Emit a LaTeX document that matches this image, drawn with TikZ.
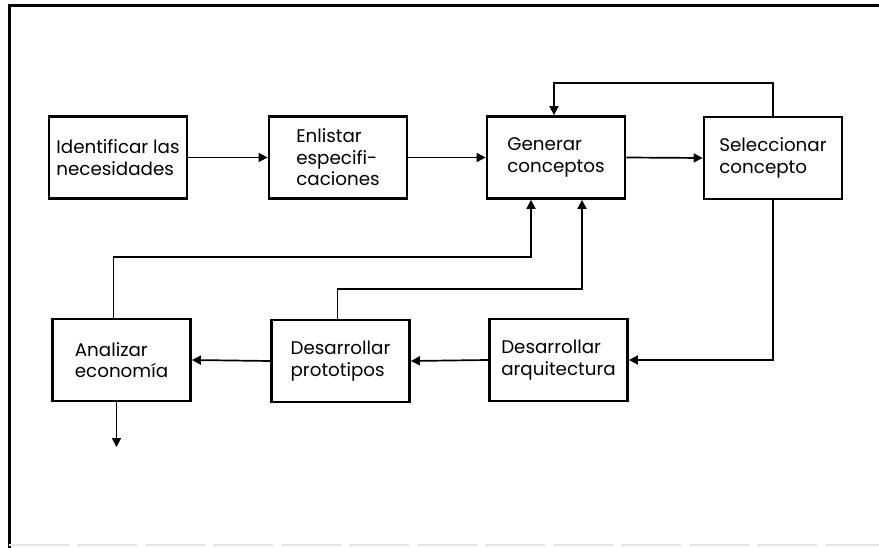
\documentclass[tikz,border=0pt]{standalone}
\usepackage{fontspec}
\setmainfont{Poppins}
\usetikzlibrary{arrows.meta}
\begin{document}
\begin{tikzpicture}[x=1pt,y=-1pt,
  stepbox/.style={draw,line width=2.8pt,minimum width=138pt,minimum height=82pt,align=left,inner sep=1pt,font=\fontsize{18.3}{21.5}\selectfont},
  arr/.style={line width=1.7pt,-{Triangle[length=9pt,width=9pt]}},
  frame/.style={line width=3pt}]
\useasboundingbox (0,0) rectangle (879,548);
% frame
\coordinate (fTL) at (9,6);
\coordinate (fTR) at (879,6);
\coordinate (fBL) at (9,548);
\draw[frame] (fTR) -- (fTL) -- (fBL);
\coordinate (bL) at (9,545);
\coordinate (bR) at (879,545);
\draw[line width=1.5pt,black!10,dash pattern=on 60pt off 8pt] (bL) -- (bR);
% boxes
\node[stepbox] (ident) at (118,157.5) {Identificar las\\necesidades};
\node[stepbox] (enl) at (338,157.5) {Enlistar\\especifi-\\caciones};
\node[stepbox] (gen) at (556,157.5) {Generar\\conceptos};
\node[stepbox] (sel) at (773,158) {Seleccionar\\concepto};
\node[stepbox] (anal) at (121.5,360) {Analizar\\economía};
\node[stepbox] (proto) at (340.5,361) {Desarrollar\\prototipos};
\node[stepbox] (arq) at (558.5,360) {Desarrollar\\arquitectura};
% helper coordinates
\coordinate (top) at (0,83);
\coordinate (h1) at (0,257);
\coordinate (h2) at (0,289);
\coordinate (g1) at ([xshift=-25pt]gen.south);
\coordinate (g2) at ([xshift=26pt]gen.south);
\coordinate (gt) at ([xshift=-2pt]gen.north);
\coordinate (a1) at ([xshift=-8pt]anal.north);
\coordinate (p1) at ([xshift=-3pt]proto.north);
\coordinate (a2) at ([xshift=-5pt]anal.south);
\coordinate (aout) at (116.5,447);
% connectors
\draw[arr] (ident.east) -- (enl.west);
\draw[arr] (enl.east) -- (gen.west);
\draw[arr] (gen.east) -- (sel.west);
\draw[arr] (sel.north) -- (sel.north |- top) -| (gt);
\draw[arr] (sel.south) |- (arq.east);
\draw[arr] (arq.west) -- (proto.east);
\draw[arr] (proto.west) -- (anal.east);
\draw[arr] (a1) |- (h1 -| g1) -- (g1);
\draw[arr] (p1) |- (h2 -| g2) -- (g2);
\draw[arr] (a2) -- (aout);
\end{tikzpicture}
\end{document}
